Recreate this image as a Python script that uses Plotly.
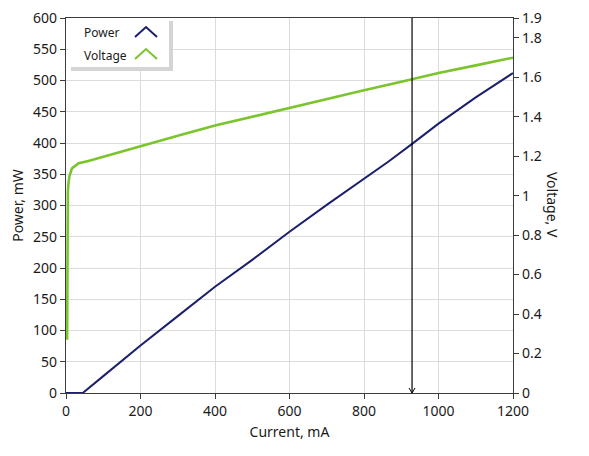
import plotly.graph_objects as go

# --------------------
# Data
# --------------------
power_current = [0, 45, 100, 200, 300, 400, 500, 600, 700, 800, 865, 930, 1000, 1100, 1200]
power_mw = [0, 0, 27, 76, 123, 170, 213, 258, 301, 343, 370, 399, 431, 473, 512]

voltage_current = [3, 3.5, 4, 5, 7, 9, 16, 34, 60, 100, 200, 300, 400, 500, 600,
                   700, 800, 900, 1000, 1100, 1200]
voltage_v = [0.27, 0.6, 0.9, 1.02, 1.07, 1.096, 1.138, 1.164, 1.175, 1.197, 1.25, 1.303,
             1.355, 1.40, 1.446, 1.49, 1.534, 1.577, 1.621, 1.66, 1.699]

cursor_ma = 929

x_ticks = [0, 200, 400, 600, 800, 1000, 1200]
power_ticks = list(range(0, 601, 50))
voltage_ticks = [0, 0.2, 0.4, 0.6, 0.8, 1, 1.2, 1.4, 1.6, 1.8, 1.9]
voltage_labels = ["0", "0.2", "0.4", "0.6", "0.8", "1", "1.2", "1.4", "1.6", "1.8", "1.9"]

NAVY = "#1c1f6b"
GREEN = "#7ac52c"
FONT = "Noto Sans"

# the page body adds an 8px offset, so the figure is drawn 8px smaller
OFF = 8
W, H = 589 - OFF, 456 - OFF
# plot area edges as seen in the screenshot
X0, X1, Y0, Y1 = 66, 513, 18, 393
L, R, T, B = X0 - OFF, W - (X1 - OFF), Y0 - OFF, H - (Y1 - OFF)
PW, PH = X1 - X0, Y1 - Y0


def px(x):
    return (x - X0) / PW


def py(y):
    return (Y1 - y) / PH


fig = go.Figure()

fig.add_trace(go.Scatter(
    x=power_current, y=power_mw, mode="lines", name="Power",
    line=dict(color=NAVY, width=2), showlegend=False,
))
fig.add_trace(go.Scatter(
    x=voltage_current, y=voltage_v, mode="lines", name="Voltage", yaxis="y2",
    line=dict(color=GREEN, width=2.6), showlegend=False,
))

axis_common = dict(
    showline=True, linecolor="#3c3c3c", linewidth=1.3,
    ticks="outside", ticklen=5, tickcolor="#3c3c3c",
    tickfont=dict(family=FONT, size=14, color="#1a1a1a"),
    zeroline=False, automargin=False, ticklabeloverflow="allow",
)

fig.update_layout(
    width=W, height=H,
    margin=dict(l=L, r=R, t=T, b=B),
    paper_bgcolor="white", plot_bgcolor="white",
    font=dict(family=FONT, color="#1a1a1a"),
    xaxis=dict(
        range=[0, 1200], tickvals=x_ticks, mirror=True,
        showgrid=True, gridcolor="#dcdcdc", gridwidth=1.3,
        title=dict(text="Current, mA", font=dict(size=14), standoff=8),
        **axis_common,
    ),
    yaxis=dict(
        range=[0, 600], tickvals=power_ticks,
        showgrid=True, gridcolor="#dcdcdc", gridwidth=1.3,
        title=dict(text="Power, mW", font=dict(size=14), standoff=6),
        **axis_common,
    ),
    yaxis2=dict(
        range=[0, 1.9], tickvals=voltage_ticks, ticktext=voltage_labels,
        overlaying="y", side="right", showgrid=False,
        **axis_common,
    ),
)

# right axis title reads top-to-bottom
fig.add_annotation(
    text="Voltage, V", xref="paper", yref="paper", x=px(553), y=py(205),
    xanchor="center", yanchor="middle",
    showarrow=False, textangle=90, font=dict(family=FONT, size=14, color="#1a1a1a"),
)

# cursor line with small open arrow at the bottom
fig.add_shape(type="line", xref="x", yref="y", x0=cursor_ma, x1=cursor_ma, y0=0, y1=600,
              line=dict(color="black", width=1.2))
fig.add_shape(type="path", xref="x", yref="y", xsizemode="pixel", ysizemode="pixel",
              xanchor=cursor_ma, yanchor=0, path="M-3,5 L0,0 L3,5",
              line=dict(color="black", width=1))

# legend box with shadow
fig.add_shape(type="rect", xref="paper", yref="paper", x0=px(71), x1=px(173), y0=py(71), y1=py(21),
              fillcolor="#d4d4d4", line=dict(width=0), layer="above")
fig.add_shape(type="rect", xref="paper", yref="paper", x0=px(68), x1=px(169), y0=py(67), y1=py(18),
              fillcolor="white", line=dict(width=0), layer="above")
for label, yc in [("Power", 32), ("Voltage", 55)]:
    fig.add_annotation(text=label, xref="paper", yref="paper", x=px(82), y=py(yc),
                       xanchor="left", yanchor="middle", showarrow=False,
                       font=dict(family=FONT, size=12, color="#1a1a1a"))
for yc, col in [(32, NAVY), (54, GREEN)]:
    fig.add_shape(type="path", xref="paper", yref="paper",
                  path=f"M {px(135)},{py(yc + 5)} L {px(146)},{py(yc - 5)} L {px(157)},{py(yc + 5)}",
                  line=dict(color=col, width=2), layer="above")

fig.write_html("out.html")
